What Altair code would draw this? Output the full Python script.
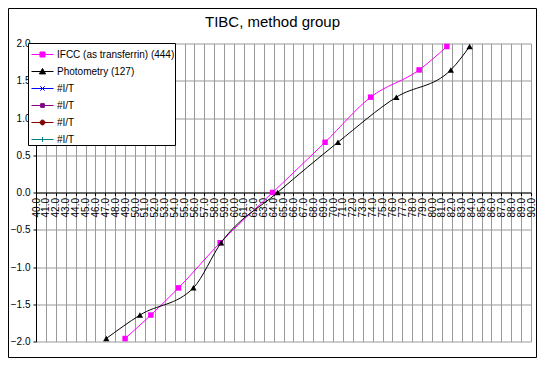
import altair as alt
import pandas as pd

# ---- data ----
z_values = [-1.96, -1.645, -1.28, -0.674, 0.0, 0.674, 1.28, 1.645, 1.96]
ifcc_x = [49.0, 51.6, 54.4, 58.6, 63.9, 69.2, 73.8, 78.7, 81.5]
photo_x = [47.1, 50.5, 55.9, 58.7, 64.4, 70.5, 76.4, 81.9, 83.8]
series_names = [
    "IFCC (as transferrin) (444)",
    "Photometry (127)",
    "#I/T 1",
    "#I/T 2",
    "#I/T 3",
    "#I/T 4",
]
series_colors = ["#FF00FF", "#000000", "#0000FF", "#800080", "#800000", "#008080"]
x_ticks = [float(v) for v in range(40, 91)]
y_ticks = [-2.0, -1.5, -1.0, -0.5, 0.0, 0.5, 1.0, 1.5, 2.0]

# legend symbols: a line with the marker on top
legend_paths = [
    "M-1,0H1M-0.23,-0.23H0.23V0.23H-0.23Z",
    "M-1,0H1M0,-0.28L0.28,0.22H-0.28Z",
    "M-1,0H1M-0.2,-0.2L0.2,0.2M-0.2,0.2L0.2,-0.2",
    "M-1,0H1M-0.17,-0.17H0.17V0.17H-0.17Z",
    "M-1,0H1M0.22,0A0.22,0.22 0 1,1 -0.22,0A0.22,0.22 0 1,1 0.22,0Z",
    "M-1,0H1M0,-0.23V0.23",
]

df = pd.DataFrame({
    "x": ifcc_x + photo_x,
    "z": z_values + z_values,
    "series": [series_names[0]] * len(ifcc_x) + [series_names[1]] * len(photo_x),
})
legend_df = pd.DataFrame({"series": series_names})

W, H = 495, 298
FONT = "Liberation Sans"
GRID = "#999999"

x_scale = alt.Scale(domain=[40, 90], nice=False, zero=False)
y_scale = alt.Scale(domain=[-2, 2], nice=False, zero=False)

x_axis = alt.Axis(
    values=x_ticks, format=".1f", labelAngle=-90, offset=-H / 2,
    grid=True, gridColor=GRID, gridWidth=1,
    domainColor="black", domainWidth=1, tickColor="black", tickSize=3,
    labelPadding=2, labelFont=FONT, labelFontSize=10, labelColor="black",
    title=None, labelOverlap=False, labelFlush=False,
)
y_axis = alt.Axis(
    values=y_ticks, format=".1f",
    grid=True, gridColor=GRID, gridWidth=1,
    domainColor="black", domainWidth=1, tickColor="black", tickSize=3,
    labelPadding=3, labelFont=FONT, labelFontSize=10, labelColor="black",
    title=None, labelOverlap=False, labelFlush=False,
)

X = alt.X("x:Q", scale=x_scale, axis=x_axis)
Y = alt.Y("z:Q", scale=y_scale, axis=y_axis)

base = alt.Chart(df)

def series_layers(name, color, shape, size):
    sub = base.transform_filter(alt.datum.series == name)
    line = sub.mark_line(color=color, strokeWidth=1, interpolate="monotone").encode(
        x=X, y=Y, order="x:Q"
    )
    pts = sub.mark_point(shape=shape, filled=True, color=color, size=size, opacity=1).encode(
        x=X, y=Y
    )
    return [line, pts]

legend_props = dict(
    title=None, orient="none", legendX=-8, legendY=-0.5, zindex=1,
    fillColor="white", strokeColor="black", padding=0, symbolOffset=3,
    symbolSize=484, symbolStrokeWidth=1, symbolOpacity=1,
    labelFont=FONT, labelFontSize=10, labelColor="black", labelOffset=3,
    rowPadding=-2, labelLimit=200,
    labelExpr="indexof(datum.label, '#I/T') == 0 ? '#I/T' : datum.label",
)

legend_layer = alt.Chart(legend_df).mark_point(opacity=0).encode(
    x=alt.value(0), y=alt.value(0),
    fill=alt.Fill("series:N", scale=alt.Scale(domain=series_names, range=series_colors),
                  legend=alt.Legend(**legend_props), sort=series_names),
    stroke=alt.Stroke("series:N", scale=alt.Scale(domain=series_names, range=series_colors),
                      legend=alt.Legend(**legend_props), sort=series_names),
    shape=alt.Shape("series:N", scale=alt.Scale(domain=series_names, range=legend_paths),
                    legend=alt.Legend(**legend_props), sort=series_names),
)

frame = alt.Chart(alt.Data(values=[{}])).mark_rect(
    fill=None, stroke="black", strokeWidth=1
).encode(
    x=alt.value(-27.5), x2=alt.value(500.5), y=alt.value(-35), y2=alt.value(314)
)

layers = [frame]
layers += series_layers(series_names[0], "#FF00FF", "square", 30)
layers += series_layers(series_names[1], "#000000", "triangle-up", 40)
layers += [legend_layer]

chart = alt.layer(*layers).properties(
    width=W, height=H,
    title=alt.Title("TIBC, method group", font=FONT, fontSize=15, fontWeight="normal",
                    color="black", anchor="middle", dx=-11, dy=34, offset=0,
                    frame="group", baseline="alphabetic"),
    autosize=alt.AutoSizeParams(type="none"),
    padding={"left": 28, "top": 35.5, "right": 6, "bottom": 16.5},
).configure_view(stroke=None)

chart.save("out.html", embed_options={"renderer": "svg", "actions": False})
